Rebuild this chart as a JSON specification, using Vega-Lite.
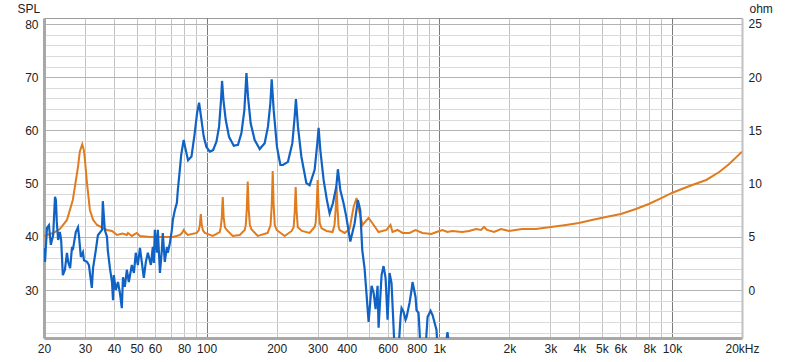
{
  "$schema": "https://vega.github.io/schema/vega-lite/v6.json",
  "width": 698,
  "height": 320,
  "autosize": {"type": "none"},
  "padding": {"left": 44, "top": 18, "right": 58, "bottom": 24},
  "background": "white",
  "config": {
    "view": {"stroke": "#9a9a9a", "strokeWidth": 1},
    "font": "Liberation Sans",
    "axis": {"labelFont": "Liberation Sans", "labelFontSize": 12, "labelColor": "#222222", "titleFont": "Liberation Sans", "titleFontSize": 12, "titleFontWeight": "normal", "titleColor": "#222222", "ticks": false}
  },
  "datasets": {
    "spl": [
      {"f":20,"spl":37.9},{"f":20.2,"spl":35.3},{"f":20.6,"spl":41.7},{"f":21.0,"spl":42.2},{"f":21.4,"spl":38.5},{"f":21.9,"spl":40.3},{"f":22.3,"spl":47.5},{"f":22.5,"spl":46.9},{"f":22.7,"spl":42.8},{"f":23.0,"spl":39.4},{"f":23.4,"spl":40.9},{"f":23.7,"spl":39.4},{"f":24.1,"spl":32.8},{"f":24.6,"spl":33.8},{"f":25.1,"spl":37.0},{"f":25.4,"spl":35.3},{"f":25.9,"spl":34.1},{"f":26.4,"spl":38.1},{"f":26.6,"spl":37.5},{"f":27.4,"spl":40.9},{"f":28.0,"spl":41.8},{"f":28.3,"spl":40.0},{"f":28.8,"spl":36.2},{"f":29.4,"spl":37.1},{"f":29.7,"spl":35.6},{"f":30.6,"spl":35.3},{"f":31.2,"spl":34.7},{"f":32.1,"spl":30.4},{"f":32.5,"spl":34.1},{"f":33.4,"spl":37.5},{"f":34.1,"spl":40.3},{"f":35.5,"spl":41.3},{"f":35.8,"spl":46.7},{"f":36.5,"spl":41.3},{"f":37.3,"spl":40.0},{"f":37.6,"spl":37.5},{"f":38.4,"spl":34.1},{"f":39.2,"spl":31.5},{"f":39.6,"spl":28.1},{"f":39.9,"spl":32.8},{"f":40.7,"spl":30.0},{"f":41.6,"spl":31.5},{"f":42.4,"spl":29.4},{"f":43.2,"spl":26.6},{"f":43.7,"spl":32.4},{"f":44.5,"spl":30.6},{"f":45.4,"spl":33.8},{"f":46.3,"spl":31.5},{"f":47.7,"spl":34.7},{"f":48.7,"spl":33.2},{"f":49.6,"spl":37.0},{"f":50.6,"spl":34.7},{"f":51.7,"spl":37.9},{"f":52.7,"spl":35.1},{"f":53.7,"spl":32.3},{"f":54.8,"spl":35.3},{"f":55.9,"spl":37.0},{"f":57.6,"spl":34.7},{"f":58.7,"spl":38.1},{"f":59.3,"spl":35.1},{"f":59.9,"spl":41.3},{"f":61.1,"spl":37.0},{"f":61.7,"spl":41.3},{"f":63.0,"spl":33.2},{"f":64.2,"spl":37.5},{"f":64.8,"spl":40.7},{"f":66.1,"spl":35.3},{"f":67.5,"spl":38.1},{"f":68.1,"spl":37.0},{"f":69.5,"spl":38.8},{"f":70.9,"spl":41.3},{"f":71.6,"spl":43.2},{"f":73.0,"spl":45.0},{"f":74.5,"spl":46.4},{"f":75.2,"spl":48.8},{"f":76.7,"spl":52.6},{"f":77.8,"spl":55.5},{"f":79.7,"spl":58.2},{"f":80.8,"spl":56.9},{"f":83.2,"spl":54.4},{"f":86.1,"spl":55.1},{"f":88.9,"spl":59.5},{"f":91.0,"spl":63.3},{"f":92.8,"spl":65.2},{"f":94.6,"spl":62.6},{"f":97.2,"spl":58.8},{"f":99.8,"spl":56.9},{"f":103.2,"spl":56.0},{"f":106.6,"spl":56.3},{"f":110.2,"spl":57.9},{"f":113.1,"spl":60.7},{"f":115.3,"spl":65.7},{"f":116.5,"spl":69.3},{"f":118.1,"spl":65.7},{"f":120.8,"spl":62.0},{"f":124.8,"spl":58.8},{"f":130.8,"spl":57.1},{"f":136.4,"spl":57.3},{"f":141.1,"spl":59.5},{"f":145.3,"spl":63.8},{"f":148.3,"spl":70.8},{"f":150.6,"spl":66.3},{"f":154.7,"spl":61.3},{"f":160.9,"spl":58.2},{"f":169.1,"spl":56.5},{"f":177.6,"spl":57.6},{"f":183.5,"spl":60.7},{"f":187.9,"spl":65.1},{"f":190.4,"spl":69.6},{"f":194.2,"spl":63.8},{"f":200.6,"spl":56.9},{"f":207.5,"spl":53.5},{"f":212.9,"spl":53.5},{"f":223.6,"spl":54.1},{"f":233.6,"spl":57.6},{"f":239.0,"spl":62.6},{"f":242.0,"spl":65.9},{"f":246.9,"spl":60.7},{"f":255.3,"spl":55.1},{"f":268.3,"spl":50.1},{"f":277.1,"spl":49.7},{"f":291.2,"spl":52.6},{"f":299.1,"spl":57.6},{"f":302.9,"spl":60.5},{"f":308.1,"spl":56.3},{"f":318.3,"spl":50.7},{"f":328.8,"spl":46.9},{"f":337.8,"spl":44.4},{"f":348.9,"spl":46.3},{"f":360.8,"spl":49.4},{"f":366.6,"spl":52.7},{"f":375.4,"spl":48.8},{"f":387.8,"spl":46.3},{"f":398.3,"spl":43.8},{"f":414.5,"spl":39.1},{"f":432.5,"spl":42.5},{"f":446.6,"spl":46.9},{"f":457.4,"spl":45.0},{"f":466.6,"spl":37.5},{"f":477.5,"spl":34.0},{"f":496.8,"spl":24.0},{"f":511.7,"spl":30.8},{"f":522.0,"spl":29.5},{"f":532.3,"spl":26.4},{"f":542.9,"spl":30.8},{"f":548.3,"spl":22.9},{"f":564.8,"spl":32.8},{"f":576.1,"spl":34.5},{"f":587.6,"spl":32.3},{"f":599.3,"spl":24.4},{"f":611.3,"spl":33.2},{"f":623.4,"spl":31.3},{"f":642.2,"spl":19},{"f":655,"spl":18},{"f":668.2,"spl":19},{"f":681.6,"spl":24.9},{"f":688.4,"spl":26.6},{"f":702.2,"spl":25.9},{"f":716.1,"spl":24.4},{"f":723.3,"spl":24.9},{"f":745.0,"spl":27.6},{"f":759.9,"spl":30.0},{"f":767.4,"spl":31.5},{"f":790.5,"spl":28.7},{"f":798.4,"spl":26.2},{"f":814.3,"spl":25.7},{"f":830.6,"spl":19},{"f":850,"spl":17},{"f":872.7,"spl":19},{"f":890.3,"spl":24.9},{"f":917.1,"spl":26.1},{"f":935.4,"spl":25.3},{"f":972.9,"spl":22.5},{"f":982.6,"spl":19},{"f":1020,"spl":17},{"f":1060,"spl":19},{"f":1084.6,"spl":22.1},{"f":1106.3,"spl":19},{"f":1130,"spl":15}
    ],
    "imp": [
      {"f":20,"ohm":5.08},{"f":21.9,"ohm":5.36},{"f":23.4,"ohm":5.73},{"f":25.1,"ohm":6.58},{"f":26.6,"ohm":8.46},{"f":28.0,"ohm":11.56},{"f":28.5,"ohm":13.0},{"f":29.2,"ohm":13.7},{"f":29.7,"ohm":13.1},{"f":30.0,"ohm":12.2},{"f":30.6,"ohm":10.06},{"f":31.5,"ohm":7.52},{"f":32.5,"ohm":6.6},{"f":33.8,"ohm":6.11},{"f":37.3,"ohm":5.64},{"f":39.2,"ohm":5.55},{"f":41.2,"ohm":5.17},{"f":43.5,"ohm":5.3},{"f":45.4,"ohm":5.17},{"f":45.9,"ohm":5.36},{"f":47.7,"ohm":5.08},{"f":50.1,"ohm":5.36},{"f":51.7,"ohm":5.08},{"f":57.0,"ohm":4.98},{"f":64.8,"ohm":4.98},{"f":71.6,"ohm":4.98},{"f":76.7,"ohm":5.17},{"f":78.6,"ohm":5.4},{"f":79.7,"ohm":5.64},{"f":81.0,"ohm":5.4},{"f":83.0,"ohm":5.17},{"f":90.7,"ohm":5.36},{"f":92.5,"ohm":5.6},{"f":93.5,"ohm":6.1},{"f":94.4,"ohm":7.14},{"f":95.3,"ohm":6.1},{"f":96.4,"ohm":5.6},{"f":98.2,"ohm":5.36},{"f":106.3,"ohm":5.08},{"f":113.9,"ohm":5.45},{"f":115.0,"ohm":5.9},{"f":116.2,"ohm":6.8},{"f":117.3,"ohm":8.74},{"f":118.4,"ohm":6.8},{"f":119.8,"ohm":5.9},{"f":122.0,"ohm":5.64},{"f":129.5,"ohm":5.08},{"f":138.8,"ohm":5.17},{"f":145.8,"ohm":5.64},{"f":147.3,"ohm":6.1},{"f":148.8,"ohm":7.6},{"f":150.2,"ohm":10.2},{"f":151.6,"ohm":7.6},{"f":153.4,"ohm":6.1},{"f":156,"ohm":5.7},{"f":165.8,"ohm":5.08},{"f":183.0,"ohm":5.36},{"f":188.3,"ohm":6.1},{"f":190.5,"ohm":8.0},{"f":192.3,"ohm":11.18},{"f":194.1,"ohm":8.0},{"f":196.3,"ohm":6.1},{"f":200.0,"ohm":5.64},{"f":216.5,"ohm":5.08},{"f":232.0,"ohm":5.55},{"f":236.6,"ohm":5.9},{"f":239.2,"ohm":7.4},{"f":241.4,"ohm":9.68},{"f":243.6,"ohm":7.4},{"f":246.5,"ohm":5.9},{"f":256.8,"ohm":5.55},{"f":277.1,"ohm":5.36},{"f":291.2,"ohm":5.92},{"f":294.2,"ohm":6.3},{"f":297.2,"ohm":7.9},{"f":300.0,"ohm":10.34},{"f":302.8,"ohm":7.9},{"f":306.3,"ohm":6.3},{"f":312,"ohm":5.8},{"f":327.8,"ohm":5.55},{"f":347.8,"ohm":5.45},{"f":354.5,"ohm":6.1},{"f":358.7,"ohm":7.6},{"f":362.0,"ohm":9.68},{"f":365.4,"ohm":7.6},{"f":369.0,"ohm":6.0},{"f":372.9,"ohm":5.64},{"f":391.8,"ohm":5.36},{"f":411.6,"ohm":5.73},{"f":428.2,"ohm":7.8},{"f":441.1,"ohm":8.65},{"f":449.9,"ohm":7.61},{"f":468.0,"ohm":6.11},{"f":496.8,"ohm":6.77},{"f":515.3,"ohm":6.3},{"f":548.3,"ohm":5.45},{"f":593.3,"ohm":5.64},{"f":617.0,"ohm":6.11},{"f":629.4,"ohm":5.45},{"f":661.3,"ohm":5.64},{"f":695.0,"ohm":5.36},{"f":745.0,"ohm":5.36},{"f":790.5,"ohm":5.64},{"f":846.6,"ohm":5.36},{"f":925.3,"ohm":5.26},{"f":972.9,"ohm":5.45},{"f":1031.8,"ohm":5.64},{"f":1084.6,"ohm":5.45},{"f":1135.4,"ohm":5.55},{"f":1253.3,"ohm":5.45},{"f":1342.8,"ohm":5.55},{"f":1439.0,"ohm":5.73},{"f":1511.9,"ohm":5.64},{"f":1557.3,"ohm":5.92},{"f":1604.1,"ohm":5.64},{"f":1719.0,"ohm":5.45},{"f":1842.0,"ohm":5.73},{"f":1993.6,"ohm":5.55},{"f":2267.2,"ohm":5.73},{"f":2603.4,"ohm":5.73},{"f":3019.2,"ohm":5.92},{"f":3502.3,"ohm":6.11},{"f":3981.4,"ohm":6.3},{"f":4528.0,"ohm":6.58},{"f":5199.8,"ohm":6.86},{"f":6033.5,"ohm":7.14},{"f":6995.1,"ohm":7.61},{"f":7954.8,"ohm":8.08},{"f":9043.7,"ohm":8.65},{"f":10000,"ohm":9.12},{"f":10750,"ohm":9.4},{"f":12225,"ohm":9.87},{"f":14040,"ohm":10.34},{"f":15964,"ohm":11.09},{"f":17622,"ohm":11.84},{"f":20000,"ohm":13.0}
    ]
  },
  "encoding": {
    "x": {
      "field": "f", "type": "quantitative",
      "scale": {"type": "log", "domain": [20, 20000], "nice": false},
      "axis": {
        "title": null,
        "values": [20,30,40,50,60,70,80,90,100,200,300,400,500,600,700,800,900,1000,2000,3000,4000,5000,6000,7000,8000,9000,10000,20000],
        "labelExpr": "datum.value == 20000 ? '20kHz' : (indexof([70,90,500,700,900,7000,9000], datum.value) >= 0 ? '' : (datum.value >= 1000 ? (datum.value/1000) + 'k' : '' + datum.value))",
        "labelOverlap": false, "labelFlush": false, "labelBound": false, "labelPadding": 5,
        "grid": true,
        "gridColor": {"condition": {"test": "datum.value == 100 || datum.value == 1000 || datum.value == 10000", "value": "#7a7a7a"}, "value": "#c4c4c4"},
        "gridWidth": 1,
        "domainColor": "#a8a8a8", "domainWidth": 3
      }
    }
  },
  "layer": [
    {
      "data": {"name": "imp"},
      "mark": {"type": "line", "color": "#e07b1e", "strokeWidth": 2, "clip": true},
      "encoding": {
        "y": {
          "field": "ohm", "type": "quantitative",
          "scale": {"domain": [-4.51, 25.56], "nice": false, "zero": false},
          "axis": {
            "orient": "right", "values": [0,5,10,15,20,25], "grid": false,
            "title": "ohm", "titleAngle": 0, "titleAlign": "left", "titleBaseline": "middle", "titleX": 7, "titleY": -10,
            "labelAlign": "left", "labelPadding": 6,
            "domainColor": "#c0c0c0", "domainWidth": 2
          }
        }
      }
    },
    {
      "data": {"name": "spl"},
      "mark": {"type": "line", "color": "#1063c4", "strokeWidth": 2.2, "clip": true},
      "encoding": {
        "y": {
          "field": "spl", "type": "quantitative",
          "scale": {"domain": [20.98, 81.13], "nice": false, "zero": false},
          "axis": {
            "orient": "left",
            "values": [22,24,26,28,30,32,34,36,38,40,42,44,46,48,50,52,54,56,58,60,62,64,66,68,70,72,74,76,78,80],
            "labelExpr": "datum.value % 10 == 0 ? datum.label : ''",
            "grid": true,
            "gridColor": {"condition": {"test": "datum.value % 10 == 0", "value": "#b4b4b4"}, "value": "#dadada"},
            "title": "SPL", "titleAngle": 0, "titleAlign": "left", "titleBaseline": "middle", "titleX": -27, "titleY": -10,
            "labelPadding": 6,
            "domainColor": "#a8a8a8", "domainWidth": 3
          }
        }
      }
    }
  ],
  "resolve": {"scale": {"y": "independent"}}
}
